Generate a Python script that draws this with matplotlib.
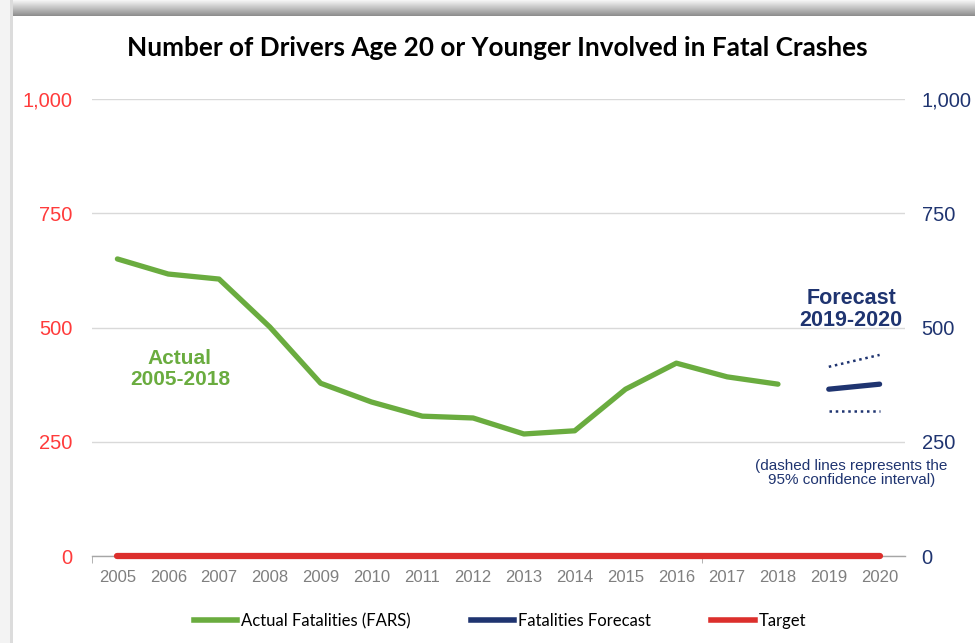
import matplotlib.pyplot as plt
import numpy as np
from matplotlib.patches import Rectangle

years = [str(y) for y in range(2005, 2021)]
actual = [650, 617, 606, 501, 378, 337, 306, 302, 267, 274, 365, 422, 392, 376]
forecast = [365, 376]
forecast_upper = [414, 440]
forecast_lower = [317, 317]
target = [0] * 16
y_ticks = [0, 250, 500, 750, 1000]

GREEN = "#6aac3f"
NAVY = "#1f3470"
RED = "#dc2f2c"
LEFT_RED = "#ff3b3b"
GRID = "#d9d9d9"

fig = plt.figure(figsize=(9.75, 6.43), dpi=100)
fig.patch.set_facecolor("white")

# card shadow (top band + left strip)
band = fig.add_axes([0, 1 - 16 / 643, 1, 16 / 643])
grad = np.linspace(0.97, 0.55, 64).reshape(-1, 1)
band.imshow(np.repeat(grad, 3, axis=1)[:, :, None].repeat(3, axis=2),
            aspect="auto", extent=[0, 1, 0, 1])
band.set_axis_off()
fig.patches.append(Rectangle((0, 0), 10 / 975, 1, transform=fig.transFigure,
                             facecolor="#f3f3f3", edgecolor="none", zorder=0))
fig.patches.append(Rectangle((10 / 975, 0), 3 / 975, 1, transform=fig.transFigure,
                             facecolor="#dcdcdc", edgecolor="none", zorder=0))

ax = fig.add_axes([92 / 975, 1 - 556 / 643, (905 - 92) / 975, (556 - 99) / 643])
x = np.arange(len(years))

ax.plot(x, target, color=RED, lw=4.5, solid_capstyle="round", zorder=5,
        clip_on=False)
ax.plot(x[:len(actual)], actual, color=GREEN, lw=3.8, solid_capstyle="round", zorder=4)
xf = x[len(actual):]
ax.plot(xf, forecast, color=NAVY, lw=3.8, solid_capstyle="round", zorder=4)
ax.plot(xf, forecast_upper, color=NAVY, lw=1.8, ls=(0, (1, 1.5)), zorder=4)
ax.plot(xf, forecast_lower, color=NAVY, lw=1.8, ls=(0, (1, 1.5)), zorder=4)

ax.set_xlim(-0.5, len(years) - 0.5)
ax.set_ylim(0, 1000)
ax.set_yticks(y_ticks)
ax.set_yticklabels([f"{v:,}" for v in y_ticks])
ax.set_xticks(x)
ax.set_xticklabels(years)
ax.grid(axis="y", color=GRID, lw=1)
ax.set_axisbelow(True)

for side in ["top", "right", "left"]:
    ax.spines[side].set_visible(False)
ax.spines["bottom"].set_color("#a6a6a6")
ax.spines["bottom"].set_linewidth(1)

narrow = ["Liberation Sans Narrow", "Liberation Sans", "DejaVu Sans"]
ax.tick_params(axis="x", length=0, pad=10, labelsize=12, labelcolor="#7f7f7f")
for lab in ax.get_xticklabels():
    lab.set_family(narrow)
ax.set_xticks([-0.5, 11.5], minor=True)
ax.tick_params(axis="x", which="minor", length=5, color="#a6a6a6")
ax.tick_params(axis="y", length=0, pad=14, labelsize=14.5, labelcolor=LEFT_RED)
for lab in ax.get_yticklabels():
    lab.set_family("Liberation Sans")

ax2 = ax.twinx()
ax2.set_ylim(0, 1000)
ax2.set_yticks(y_ticks)
ax2.set_yticklabels([f"{v:,}" for v in y_ticks])
for side in ["top", "right", "left", "bottom"]:
    ax2.spines[side].set_visible(False)
ax2.tick_params(axis="y", length=0, pad=12, labelsize=14.5, labelcolor=NAVY)
for lab in ax2.get_yticklabels():
    lab.set_family("Liberation Sans")

ax.text(1.23, 409, "Actual\n2005-2018", color=GREEN, fontsize=15,
        fontweight="bold", family="Liberation Sans", ha="center", va="center",
        linespacing=1.1)
ax.text(14.44, 540, "Forecast\n2019-2020", color=NAVY, fontsize=15.5,
        fontweight="bold", family="Liberation Sans", ha="center", va="center",
        linespacing=1.05)
ax.text(14.44, 182, "(dashed lines represents the\n95% confidence interval)",
        color=NAVY, fontsize=11, family="Liberation Sans", ha="center",
        va="center", linespacing=1.0)

fig.text(497 / 975, 1 - 48 / 643,
         "Number of Drivers Age 20 or Younger Involved in Fatal Crashes",
         ha="center", va="center", fontsize=18.8, fontweight="bold",
         family="Lato", color="black")

handles = [
    plt.Line2D([], [], color=GREEN, lw=4),
    plt.Line2D([], [], color=NAVY, lw=4),
    plt.Line2D([], [], color=RED, lw=4),
]
fig.legend(handles, ["Actual Fatalities (FARS)", "Fatalities Forecast", "Target"],
           loc="center", bbox_to_anchor=(500 / 975, 1 - 621 / 643), ncol=3,
           frameon=False, handlelength=2.6, handletextpad=0.25, columnspacing=3.6,
           prop={"family": "Lato", "size": 12})

fig.savefig("out.png", dpi=100, facecolor="white")
